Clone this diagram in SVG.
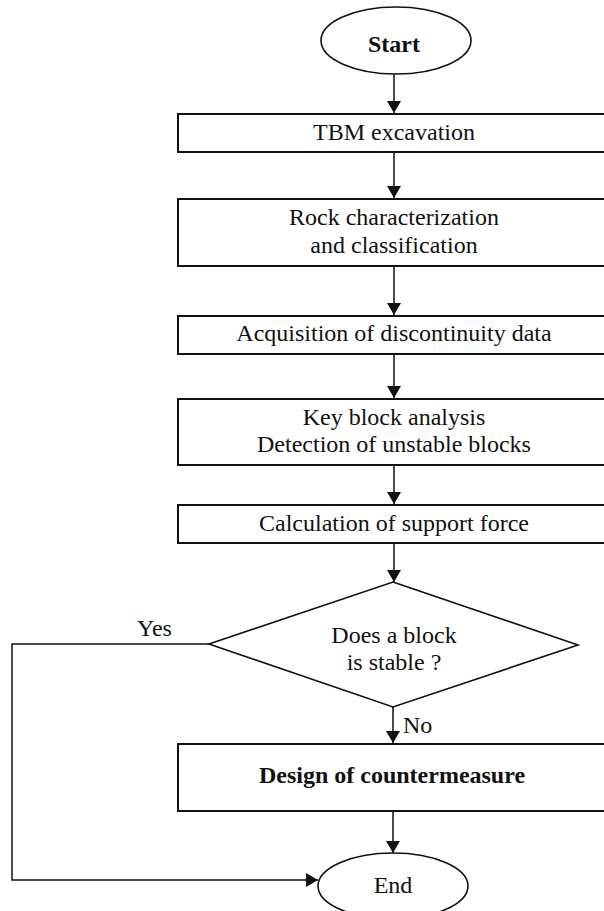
<svg xmlns="http://www.w3.org/2000/svg" width="604" height="911" viewBox="0 0 604 911">
<style>
  .bg { fill: #ffffff; }
  .box { fill: #ffffff; stroke: #111111; stroke-width: 2; }
  .term { fill: #ffffff; stroke: #111111; stroke-width: 1.6; }
  .dec { fill: #ffffff; stroke: #111111; stroke-width: 1.6; }
  .conn { fill: none; stroke: #111111; stroke-width: 1.5; }
  text { font-size: 24px; fill: #111111; text-anchor: middle; }
  .bold { font-weight: bold; }
  .lbl { text-anchor: start; }
</style>
<defs>
  <marker id="arrow" markerUnits="userSpaceOnUse" markerWidth="14" markerHeight="14" refX="12" refY="7" orient="auto">
    <path d="M0,0 L12,7 L0,14 Z" fill="#111111"/>
  </marker>
</defs>
<rect class="bg" x="0" y="0" width="604" height="911"/>

<g font-family="Liberation Serif, DejaVu Serif, serif">
<g id="connectors">
  <line class="conn" x1="394" y1="74" x2="394" y2="113" marker-end="url(#arrow)"/>
  <line class="conn" x1="394" y1="152" x2="394" y2="198" marker-end="url(#arrow)"/>
  <line class="conn" x1="394" y1="266" x2="394" y2="315" marker-end="url(#arrow)"/>
  <line class="conn" x1="394" y1="354" x2="394" y2="398" marker-end="url(#arrow)"/>
  <line class="conn" x1="394" y1="465" x2="394" y2="504" marker-end="url(#arrow)"/>
  <line class="conn" x1="394" y1="543" x2="394" y2="582" marker-end="url(#arrow)"/>
  <line class="conn" x1="393" y1="707" x2="393" y2="743" marker-end="url(#arrow)"/>
  <line class="conn" x1="393" y1="811" x2="393" y2="853" marker-end="url(#arrow)"/>
  <polyline class="conn" points="209,644 12,644 12,880 318,880" marker-end="url(#arrow)"/>
  <text class="lbl" x="137" y="636" font-size="22">Yes</text>
  <text class="lbl" x="403" y="733">No</text>
</g>

<g id="start">
  <ellipse class="term" cx="396" cy="40.5" rx="75" ry="33.5"/>
  <text class="bold" x="394" y="52" font-size="22">Start</text>
</g>

<g id="tbm">
  <rect class="box" x="178" y="114" width="440" height="38"/>
  <text x="394" y="140">TBM excavation</text>
</g>

<g id="rock">
  <rect class="box" x="178" y="199" width="440" height="67"/>
  <text x="394" y="225">Rock characterization</text>
  <text x="394" y="253">and classification</text>
</g>

<g id="acquisition">
  <rect class="box" x="178" y="316" width="440" height="38"/>
  <text x="394" y="341">Acquisition of discontinuity data</text>
</g>

<g id="keyblock">
  <rect class="box" x="178" y="399" width="440" height="66"/>
  <text x="394" y="425">Key block analysis</text>
  <text x="394" y="452">Detection of unstable blocks</text>
</g>

<g id="calculation">
  <rect class="box" x="178" y="505" width="440" height="38"/>
  <text x="394" y="531">Calculation of support force</text>
</g>

<g id="decision">
  <polygon class="dec" points="393,582 578,645 393,707 209,644"/>
  <text x="394" y="643">Does a block</text>
  <text x="394" y="670">is stable ?</text>
</g>

<g id="design">
  <rect class="box" x="178" y="744" width="440" height="67"/>
  <text class="bold" x="392" y="783">Design of countermeasure</text>
</g>

<g id="end">
  <ellipse class="term" cx="393" cy="886" rx="75" ry="33"/>
  <text x="393" y="893">End</text>
</g>
</g>
</svg>
